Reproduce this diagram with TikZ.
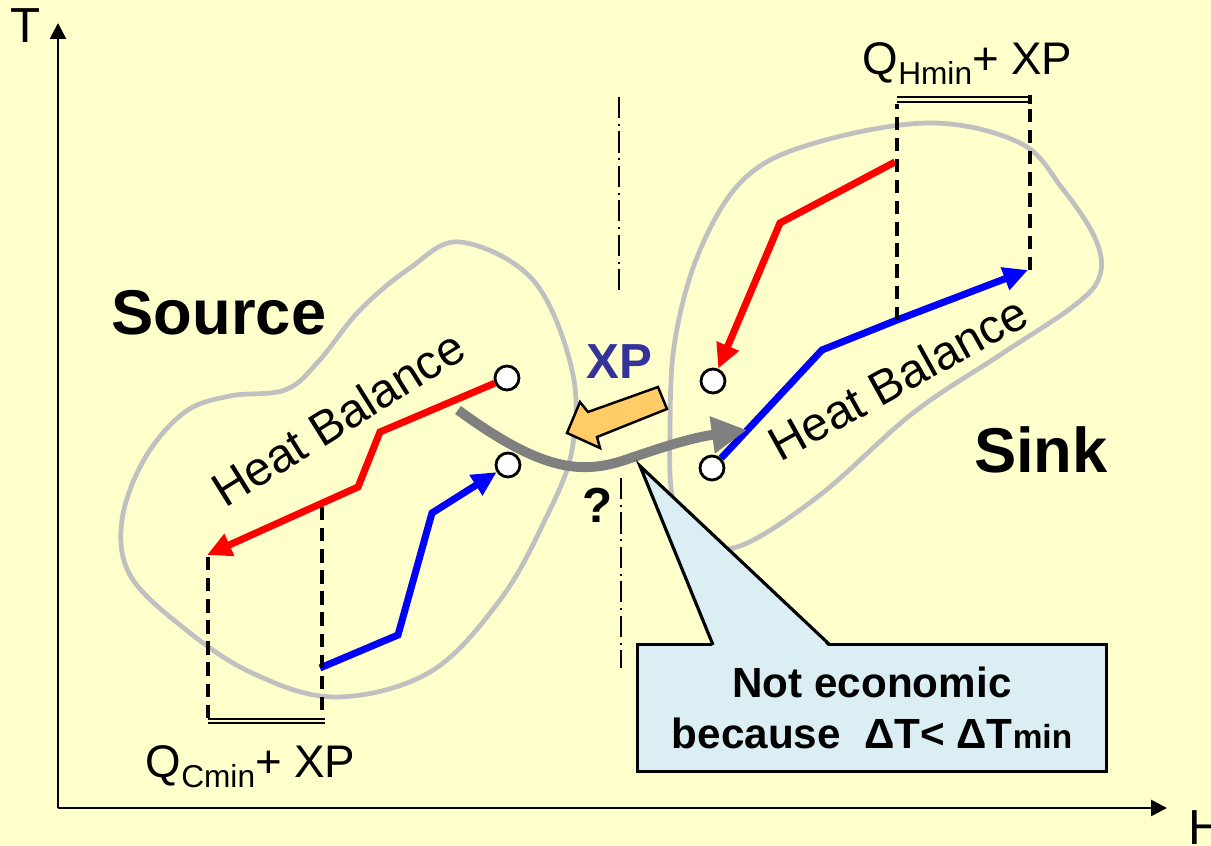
\documentclass[tikz,border=0pt]{standalone}
\usepackage{fontspec}
\setmainfont{Liberation Sans}
\usetikzlibrary{positioning, arrows.meta, calc}

\definecolor{bgyellow}{HTML}{FFFFCC}
\definecolor{blobgray}{HTML}{C0C0C0}
\definecolor{xpblue}{HTML}{333399}
\definecolor{xporange}{HTML}{FFCC66}
\definecolor{calloutblue}{HTML}{DAEEF3}

\tikzset{
    hotline/.style={red, line width=2pt},          % 高温側の複合線
    coldline/.style={blue, line width=2pt},        % 低温側の複合線
    streamtip/.style={-{Triangle[length=7pt, width=6.5pt]}},
    endpoint/.style={circle, draw, fill=white, line width=0.8pt, minimum size=0.24cm, inner sep=0pt},
    blob/.style={blobgray, line width=1.35pt},
    qline/.style={black, line width=1pt, dash pattern=on 3.8pt off 2.2pt},
    qbar/.style={draw=black, double=bgyellow, double distance=0.75pt, line width=0.6pt},
    pinchline/.style={black, line width=0.6pt, dash pattern=on 6pt off 1.6pt on 0.6pt off 1.6pt},
    balancelabel/.style={font=\fontsize{13.6}{16}\selectfont},
    regionlabel/.style={font=\bfseries\fontsize{18}{20}\selectfont}
}

\begin{document}
\begin{tikzpicture}[
    x=0.01cm, y=-0.01cm,    % 画像のピクセル座標をそのまま使う
    >=Stealth
]

    % --- 0. 背景 ---
    \fill[bgyellow] (0,0) rectangle (1211,846);
    \useasboundingbox (0,0) rectangle (1211,846);

    % --- 1. 座標軸の描画 ---
    \coordinate (origin) at (58,808);
    \coordinate (Tend) at (58,23);
    \coordinate (Hend) at (1167,808);
    \draw[line width=0.75pt, -{Triangle[length=4.5pt, width=4.5pt]}] (origin) -- (Tend);
    \draw[line width=0.75pt, -{Triangle[length=4.5pt, width=4.5pt]}] (origin) -- (Hend);
    \node[font=\fontsize{14}{16}\selectfont] (Tlabel) at (26,26) {T};
    \node[font=\fontsize{14}{16}\selectfont] (Hlabel) at (1206,828) {H};

    % --- 2. Source / Sink の領域（灰色の輪郭） ---
    \draw[blob] plot[smooth cycle, tension=0.6] coordinates {
        (460,242) (533,280) (572,370) (572,450) (545,520) (500,600)
        (430,672) (335,697) (250,672) (180,625) (130,575) (122,520)
        (145,458) (185,412) (230,396) (285,390) (318,362) (360,310)
        (410,268)
    };
    \draw[blob] plot[smooth cycle, tension=0.6] coordinates {
        (930,123) (1020,143) (1062,188) (1095,238) (1100,275) (1075,305)
        (1000,355) (913,413) (820,495) (740,546) (695,540) (673,500)
        (670,430) (675,340) (700,250) (745,178) (815,143)
    };

    % --- 3. ピンチ線（一点鎖線） ---
    \draw[pinchline] (619,97) -- (619,290);
    \draw[pinchline] (621,478) -- (621,668);

    % --- 4. 端点の丸 ---
    \node[endpoint] (hotS)  at (507,378) {};
    \node[endpoint] (coldS) at (508,465) {};
    \node[endpoint] (hotK)  at (713,381) {};
    \node[endpoint] (coldK) at (712,468) {};

    % --- 5. 複合線（左：Source） ---
    \coordinate (hotSend) at (207,555);
    \coordinate (coldSstart) at (320,668);
    \draw[hotline, streamtip] (hotS) -- (380,432) -- (358,487) -- (hotSend);
    \draw[coldline, streamtip] (coldSstart) -- (398,635) -- (432,513) -- (coldS);

    % 【Q_Cmin + XP の区間】
    \coordinate (qcL) at (208,557);
    \coordinate (qcR) at (322,507);
    \draw[qline] (qcL) -- (208,719);
    \draw[qline] (qcR) -- (322,719);
    \draw[qbar] (208,721) -- (325,721);
    \node[anchor=base west, inner sep=0pt, font=\fontsize{13}{15}\selectfont] (qClabel) at (145,778)
        {Q\raisebox{-2.8pt}{\fontsize{9}{10}\selectfont Cmin}+ XP};

    % --- 6. 複合線（右：Sink） ---
    \coordinate (hotKstart) at (895,162);
    \coordinate (coldKend) at (1028,270);
    \draw[hotline, streamtip] (hotKstart) -- (780,223) -- (hotK);
    \draw[coldline, streamtip] (coldK) -- (822,350) -- (897,320) -- (coldKend);

    % 【Q_Hmin + XP の区間】
    \coordinate (qhL) at (897,320);
    \coordinate (qhR) at (1030,270);
    \draw[qline] (qhL) -- (897,104);
    \draw[qline] (qhR) -- (1030,104);
    \draw[qbar] (897,99.5) -- (1030,99.5);
    \draw[line width=1pt] (1030,95) -- (1030,104);
    \node[anchor=base west, inner sep=0pt, font=\fontsize{13}{15}\selectfont] (qHlabel) at (862,75)
        {Q\raisebox{-2.8pt}{\fontsize{9}{10}\selectfont Hmin}+ XP};

    % --- 7. 熱収支ラベルと領域名 ---
    \node[balancelabel, rotate=32] (balS) at (338,418) {Heat Balance};
    \node[balancelabel, rotate=29] (balK) at (898,378) {Heat Balance};
    \node[regionlabel] (source) at (219,313) {Source};
    \node[regionlabel] (sink) at (1041,450) {Sink};

    % --- 8. XP の移動（灰色の曲線矢印とオレンジ矢印） ---
    \coordinate (xpS) at (458,410);
    \coordinate (xpE) at (747,430);
    \draw[gray, line width=2.8pt, -{Triangle[length=10pt, width=10pt]}]
        (xpS) .. controls (540,470) and (580,475) .. (625,460)
              .. controls (660,448) and (690,438) .. (xpE);
    \draw[fill=xporange, line width=0.7pt]
        (567,433) -- (580,402) -- (588,412) -- (658,387)
        -- (667,409) -- (597,437) -- (600,448) -- cycle;
    \node[text=xpblue, font=\bfseries\fontsize{14}{16}\selectfont] (xplabel) at (619,362) {XP};
    \node[font=\bfseries\fontsize{14}{16}\selectfont] (question) at (598,505) {?};

    % --- 9. 吹き出し ---
    \node[draw, fill=calloutblue, line width=0.9pt, minimum width=4.68cm, minimum height=1.27cm,
          align=center, font=\bfseries\fontsize{12}{14.5}\selectfont] (callout) at (872,708)
        {Not economic\\because\ \ ΔT< ΔT{\fontsize{9.5}{12}\selectfont min}};
    \coordinate (calloutTip) at (640,466);
    \fill[calloutblue] (calloutTip) -- (713,648) -- (830,648) -- cycle;
    \draw[line width=0.9pt] (713,645) -- (calloutTip) -- (830,645);

\end{tikzpicture}
\end{document}
